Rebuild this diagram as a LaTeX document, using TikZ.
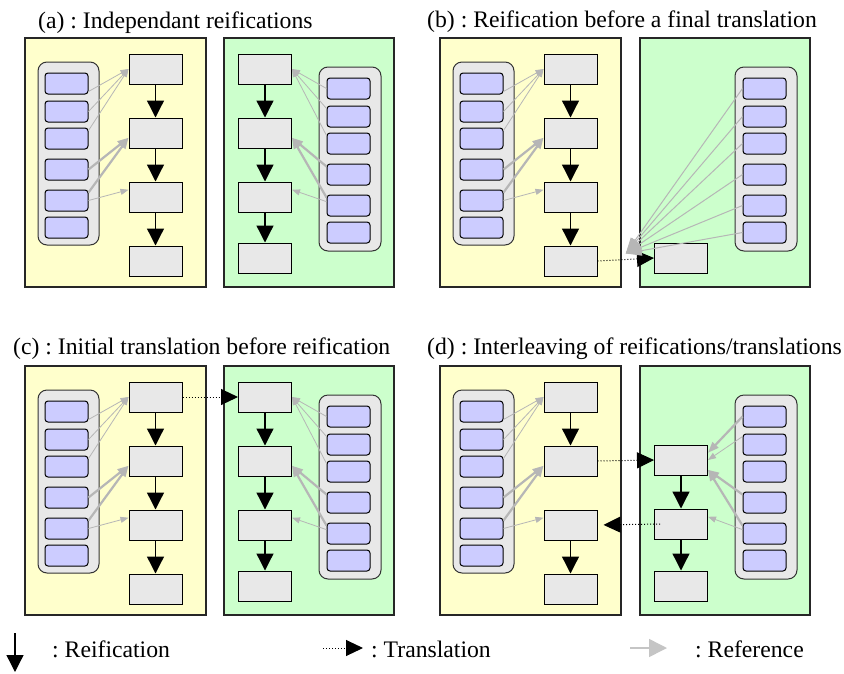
\documentclass[tikz,border=0pt]{standalone}
\usepackage{fontspec}
\setmainfont{Liberation Serif}
\frenchspacing
\usetikzlibrary{arrows.meta,positioning,calc}

\definecolor{yellowbg}{RGB}{255,255,204}
\definecolor{greenbg}{RGB}{204,255,204}
\definecolor{boxgray}{RGB}{232,232,232}
\definecolor{eltblue}{RGB}{204,204,255}
\definecolor{refgray}{RGB}{182,182,182}

\begin{document}
\begin{tikzpicture}[x=1pt, y=-1pt, node distance=33pt, font=\fontsize{23.7}{28}\selectfont]
	\tikzstyle{yellowpanel} = [draw=black!85, line width=1.2pt, fill=yellowbg];
	\tikzstyle{greenpanel} = [draw=black!85, line width=1.2pt, fill=greenbg];
	\tikzstyle{container} = [draw=black!80, line width=1pt, fill=boxgray, rounded corners=9pt];
	\tikzstyle{lvl} = [draw, line width=1pt, fill=boxgray, minimum width=53pt, minimum height=30pt, inner sep=0pt];
	\tikzstyle{elt} = [draw, line width=1pt, fill=eltblue, rounded corners=3pt, minimum width=43pt, minimum height=21pt, inner sep=0pt];
	\tikzstyle{reif} = [-{Triangle[length=17pt,width=17pt]}, line width=1.3pt];
	\tikzstyle{transl} = [-{Triangle[length=17pt,width=16pt]}, dotted, line width=1pt];
	\tikzstyle{ref} = [-{Triangle[length=8pt,width=6pt]}, draw=refgray, line width=0.8pt];
	\tikzstyle{refthick} = [-{Triangle[length=11pt,width=8pt]}, draw=refgray, line width=2.2pt];
	\tikzstyle{refwide} = [-{Triangle[length=16pt,width=10pt]}, draw=refgray, line width=1pt];
	\tikzstyle{title} = [anchor=base west, inner sep=0pt];

	\useasboundingbox (0,0) rectangle (844,673);

	% left (yellow) panels
	\foreach \p/\x/\y in {a/25/38, b/440/38, c/25/366, d/440/366} {
		\begin{scope}[shift={(\x,\y)}]
			\draw [yellowpanel] (0,0) rectangle (181,249);
			\draw [container] (13,24) rectangle (74,207);
			\foreach \i/\c in {1/45.5, 2/73.5, 3/100.5, 4/131.5, 5/162.5, 6/189.5}
				\node [elt] (\p-elt\i) at (41.5,\c) {};
			\node [lvl]                      (\p-lvl1) at (130.5,31) {};
			\node [lvl, below = of \p-lvl1]  (\p-lvl2) {};
			\node [lvl, below = of \p-lvl2]  (\p-lvl3) {};
			\node [lvl, below = of \p-lvl3]  (\p-lvl4) {};
		\end{scope}
		\draw [ref]      (\p-elt1.-20) -- (\p-lvl1.west);
		\draw [ref]      (\p-elt2.east) -- (\p-lvl1.west);
		\draw [ref]      (\p-elt3.20)  -- (\p-lvl1.west);
		\draw [refthick] (\p-elt4.east) -- (\p-lvl2.-170);
		\draw [refthick] (\p-elt5.20)  -- (\p-lvl2.-170);
		\draw [ref]      (\p-elt5.east) -- (\p-lvl3.165);
		\draw [reif] (\p-lvl1) -- (\p-lvl2);
		\draw [reif] (\p-lvl3) -- (\p-lvl4);
	}
	\foreach \p in {a,b,c}
		\draw [reif] (\p-lvl2) -- (\p-lvl3);

	% right (green) panels
	\foreach \p/\x/\y in {a/224/38, b/640/38, c/224/366, d/640/366} {
		\begin{scope}[shift={(\x,\y)}]
			\draw [greenpanel] (0,0) rectangle (170,249);
			\draw [container] (95,29) rectangle (157,213);
			\foreach \i/\c in {1/50.5, 2/78.5, 3/105.5, 4/136.5, 5/167.5, 6/194.5}
				\node [elt] (\p-gelt\i) at (124.5,\c) {};
			\node [lvl] (\p-glvl4) at (41,220) {};
		\end{scope}
	}
	\foreach \p/\x/\y in {a/224/38, c/224/366} {
		\begin{scope}[shift={(\x,\y)}]
			\node [lvl]                       (\p-glvl1) at (41,31) {};
			\node [lvl, below = of \p-glvl1]  (\p-glvl2) {};
			\node [lvl, below = of \p-glvl2]  (\p-glvl3) {};
		\end{scope}
		\draw [ref]      (\p-gelt1.west) -- (\p-glvl1.east);
		\draw [ref]      (\p-gelt2.160)  -- (\p-glvl1.east);
		\draw [ref]      (\p-gelt3.160)  -- (\p-glvl1.east);
		\draw [refthick] (\p-gelt4.160)  -- (\p-glvl2.-10);
		\draw [refthick] (\p-gelt5.160)  -- (\p-glvl2.-10);
		\draw [ref]      (\p-gelt5.170)  -- (\p-glvl3.15);
		\draw [reif] (\p-glvl1) -- (\p-glvl2);
		\draw [reif] (\p-glvl2) -- (\p-glvl3);
		\draw [reif] (\p-glvl3) -- (\p-glvl4);
	}
	\begin{scope}[shift={(640,366)}]
		\node [lvl]                     (d-glvl2) at (41,94) {};
		\node [lvl, below = of d-glvl2] (d-glvl3) {};
	\end{scope}
	\draw [reif] (d-glvl2) -- (d-glvl3);
	\draw [reif] (d-glvl3) -- (d-glvl4);

	% translations
	\draw [transl] (b-lvl4.east) -- (b-glvl4.west);
	\draw [transl] (c-lvl1.east) -- (c-glvl1.west);
	\draw [transl] (d-lvl2.east) -- (d-glvl2.west);
	\draw [transl, shorten >=6pt] ([xshift=6pt]d-glvl3.west) -- (d-lvl3.east);

	% references
	\coordinate (b-tgt) at ($(b-lvl4.east)!.5!(b-glvl4.west) + (0,6pt)$);
	\foreach \i in {1,...,6}
		\draw [refwide] (b-gelt\i.west) -- (b-tgt);
	\draw [refthick] (d-gelt1.west) -- (d-glvl2.15);
	\draw [ref]      (d-gelt2.160)  -- (d-glvl2.east);
	\draw [refthick] (d-gelt4.160)  -- (d-glvl2.-20);
	\draw [refthick] (d-gelt5.160)  -- (d-glvl2.-20);
	\draw [ref]      (d-gelt5.170)  -- (d-glvl3.15);

	% titles
	\node [title] (title-a) at (38,28)  {(a) : Independant reifications};
	\node [title] (title-b) at (427,27) {(b) : Reification before a final translation};
	\node [title] (title-c) at (13,354) {(c) : Initial translation before reification};
	\node [title] (title-d) at (427,354) {(d) : Interleaving of reifications/translations};

	% legend
	\coordinate (reif-from) at (15,633);
	\coordinate (reif-to) at (15,672);
	\draw [reif] (reif-from) -- (reif-to);
	\node [title] (reif-txt) at (52,657) {: Reification};
	\coordinate (transl-from) at (323,648);
	\coordinate (transl-to) at (363,648);
	\draw [transl] (transl-from) -- (transl-to);
	\node [title] (transl-txt) at (371,657) {: Translation};
	\coordinate (ref-from) at (630,648);
	\coordinate (ref-to) at (667,648);
	\draw [-{Triangle[length=18pt,width=18pt]}, draw=refgray!80, line width=1.5pt] (ref-from) -- (ref-to);
	\node [title] (ref-txt) at (695,657) {: Reference};
\end{tikzpicture}
\end{document}
